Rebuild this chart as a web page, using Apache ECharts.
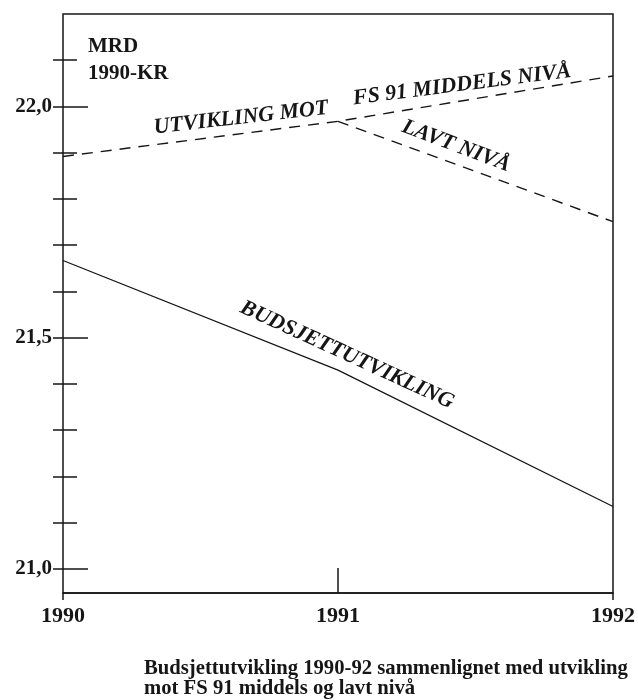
<!DOCTYPE html>
<html>
<head>
<meta charset="utf-8">
<script src="https://cdn.jsdelivr.net/npm/echarts@6/dist/echarts.min.js"></script>
<style>
html,body{margin:0;padding:0;background:#fff;}
#chart{width:638px;height:700px;}
</style>
</head>
<body>
<div id="chart"></div>
<script>
// Data (MRD 1990-KR)
const years = [1990, 1991, 1992];
const budsjett = [21.667, 21.430, 21.135];
const middels = [21.892, 21.968, 22.066];
const lavtYears = [1991, 1992];
const lavt = [21.968, 21.751];
const yMajorTicks = [21.0, 21.5, 22.0];
const yMinorTicks = [21.1, 21.2, 21.3, 21.4, 21.6, 21.7, 21.8, 21.9, 22.1];
const xLabelTicks = [1990, 1991, 1992];
const unitLines = ['MRD', '1990-KR'];
const caption = ['Budsjettutvikling 1990-92 sammenlignet med utvikling', 'mot FS 91 middels og lavt nivå'];
const lineLabels = ['UTVIKLING MOT', 'FS 91 MIDDELS NIVÅ', 'LAVT NIVÅ', 'BUDSJETTUTVIKLING'];

const INK = '#161616';
const SERIF = '"Liberation Serif", "DejaVu Serif", serif';
const YMIN = 20.948, YMAX = 22.2;

function pairs(xs, ys) { return xs.map((x, i) => [x, ys[i]]); }

const chart = echarts.init(document.getElementById('chart'), null, {renderer: 'canvas'});

const baseY = {type: 'value', min: YMIN, max: YMAX, position: 'left', offset: 0,
  splitLine: {show: false}, axisLine: {show: false}};

const option = {
  backgroundColor: '#ffffff',
  animation: false,
  grid: {left: 63, right: 23, top: 14, bottom: 107, show: true,
    borderColor: INK, borderWidth: 1.5, backgroundColor: 'transparent'},
  xAxis: [
    {type: 'value', min: 1990, max: 1992, interval: 1, position: 'bottom',
     splitLine: {show: false},
     axisLine: {show: true, lineStyle: {color: INK, width: 1.5}},
     axisTick: {show: true, inside: false, length: 7, customValues: [1990, 1992], lineStyle: {color: INK, width: 1.5}},
     axisLabel: {show: true, customValues: xLabelTicks, margin: 12, color: INK,
       fontFamily: SERIF, fontWeight: 'bold', fontSize: 22, formatter: v => String(v)}},
    {type: 'value', min: 1990, max: 1992, interval: 1, position: 'bottom', offset: 0,
     splitLine: {show: false}, axisLine: {show: false},
     axisTick: {show: true, inside: true, length: 25, customValues: [1991], lineStyle: {color: INK, width: 1.5}},
     axisLabel: {show: false}}
  ],
  yAxis: [
    Object.assign({}, baseY, {
      axisTick: {show: true, inside: true, length: 14, customValues: yMinorTicks, lineStyle: {color: INK, width: 1.5}},
      axisLabel: {show: true, customValues: yMajorTicks, margin: 11, color: INK,
        fontFamily: SERIF, fontWeight: 'bold', fontSize: 21,
        formatter: v => v.toFixed(1).replace('.', ',')}
    }),
    Object.assign({}, baseY, {
      axisTick: {show: true, inside: true, length: 25, customValues: yMajorTicks, lineStyle: {color: INK, width: 1.5}},
      axisLabel: {show: false}
    }),
    Object.assign({}, baseY, {
      axisTick: {show: true, inside: false, length: 10, customValues: yMajorTicks.concat(yMinorTicks), lineStyle: {color: INK, width: 1.5}},
      axisLabel: {show: false}
    })
  ],
  series: [
    {name: 'Budsjettutvikling', type: 'line', data: pairs(years, budsjett), showSymbol: false,
     lineStyle: {color: INK, width: 1.3}},
    {name: 'Middels nivå', type: 'line', data: pairs(years, middels), showSymbol: false,
     lineStyle: {color: INK, width: 1.4, type: [11, 8]}},
    {name: 'Lavt nivå', type: 'line', data: pairs(lavtYears, lavt), showSymbol: false,
     lineStyle: {color: INK, width: 1.4, type: [11, 8]}}
  ],
  graphic: [
    {type: 'text', left: 88, top: 33, style: {text: unitLines.join('\n'), fill: INK,
      font: 'bold 21px ' + SERIF, lineHeight: 27}},
    {type: 'text', x: 241, y: 118, rotation: 0.112, style: {text: lineLabels[0], fill: INK,
      font: 'italic bold 22px ' + SERIF, align: 'center', verticalAlign: 'middle'}},
    {type: 'text', x: 462, y: 85, rotation: 0.126, style: {text: lineLabels[1], fill: INK,
      font: 'italic bold 22px ' + SERIF, align: 'center', verticalAlign: 'middle'}},
    {type: 'text', x: 456, y: 146, rotation: -0.36, style: {text: lineLabels[2], fill: INK,
      font: 'italic bold 22px ' + SERIF, align: 'center', verticalAlign: 'middle'}},
    {type: 'text', x: 347, y: 355, rotation: -0.43, style: {text: lineLabels[3], fill: INK,
      font: 'italic bold 22px ' + SERIF, align: 'center', verticalAlign: 'middle'}},
    {type: 'text', x: 144, y: 658, scaleX: 0.94, style: {text: caption.join('\n'), fill: INK,
      font: 'bold 22px ' + SERIF, lineHeight: 20, align: 'left', verticalAlign: 'top'}}
  ]
};
chart.setOption(option);
</script>
</body>
</html>
